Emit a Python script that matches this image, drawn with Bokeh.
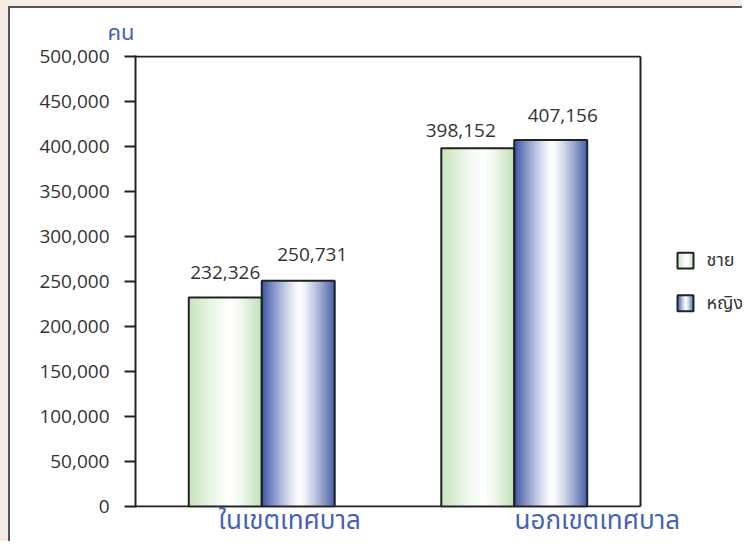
import re
from bokeh.plotting import figure
from bokeh.layouts import row
from bokeh.models import Range1d, NumeralTickFormatter, FixedTicker, ColumnDataSource
from bokeh.embed import file_html
from bokeh.resources import INLINE
from bokeh.core.properties import value

# ---- data ----
categories = ["ในเขตเทศบาล", "นอกเขตเทศบาล"]
series_names = ["ชาย", "หญิง"]
male = [232326, 398152]
female = [250731, 407156]
y_ticks = [0, 50000, 100000, 150000, 200000, 250000, 300000, 350000, 400000, 450000, 500000]
y_unit = "คน"

# ---- style ----
NUM_FONT = "Open Sans"
THAI_FONT = "'Noto Sans Thai', 'Noto Sans Thai Looped', Loma, Garuda, 'Noto Sans', sans-serif"
BLUE_TEXT = "#4762b4"
LINE = "#222222"
GRAD = {
    "ชาย": ((198, 228, 188), (192, 224, 182), 0.58),
    "หญิง": ((58, 84, 166), (68, 94, 170), 0.52),
}
BAR_W = 0.289
N_STRIPS = 40
CAT_LABEL_SHIFT = [0.111, 0.329]   # category labels sit right of the group centres
# value-label nudges in px (per series, per category): horizontal shift, gap above bar
LABEL_DX = [[0, -17], [14, 12]]
LABEL_GAP = [[25, 18], [26, 25]]

# canvas geometry (px)
W, H = 734, 535
FRAME_LEFT = 125
BOX_AREA_W = 505                     # boxed plot area width
X_EXTRA = (W - FRAME_LEFT) / BOX_AREA_W   # frame continues to the right to host the legend
n_cat = len(categories)
Y_PAD = 1100                          # keeps the 2px box lines fully visible


def grad_color(t, left, right, peak):
    if t <= peak:
        w = (peak - t) / peak
        edge = left
    else:
        w = (t - peak) / (1 - peak)
        edge = right
    w = min(1.0, w) ** 1.25
    c = [round(255 * (1 - w) + e * w) for e in edge]
    return "#%02x%02x%02x" % tuple(c)


def gradient_strips(bl, br, top, bottom, name, n):
    """overlapping strips (each runs to the right edge) -> no seams"""
    left_c, right_c, peak = GRAD[name]
    out = []
    for k in range(n):
        t = (k + 0.5) / n
        out.append((bl + (br - bl) * k / n, br, top, bottom, grad_color(t, left_c, right_c, peak)))
    return out


y0, y1 = y_ticks[0] - Y_PAD, y_ticks[-1] + Y_PAD
p = figure(width=W, height=H, x_range=Range1d(0, n_cat * X_EXTRA), y_range=Range1d(y0, y1),
           output_backend="svg", toolbar_location=None,
           min_border_left=FRAME_LEFT, min_border_right=0, min_border_top=47, min_border_bottom=30)
p.background_fill_color = "white"
p.border_fill_color = "white"
p.outline_line_color = None
p.xgrid.visible = False
p.ygrid.visible = False

p.title.text = y_unit
p.title.align = "left"
p.title.offset = -28
p.title.text_font = THAI_FONT
p.title.text_font_size = "22px"
p.title.text_font_style = "normal"
p.title.text_color = BLUE_TEXT
p.title.standoff = 11

ya = p.yaxis[0]
ya.ticker = FixedTicker(ticks=y_ticks)
ya.formatter = NumeralTickFormatter(format="0,0")
ya.minor_tick_line_color = None
ya.major_tick_in = 0
ya.major_tick_out = 11
ya.major_tick_line_width = 2
ya.major_tick_line_color = LINE
ya.axis_line_color = LINE
ya.axis_line_width = 2
ya.major_label_standoff = 15
ya.major_label_text_font = NUM_FONT
ya.major_label_text_font_size = "19px"
ya.major_label_text_color = "#333333"

xa = p.xaxis[0]
cat_pos = [ci + 0.5 + s for ci, s in enumerate(CAT_LABEL_SHIFT)]
xa.ticker = FixedTicker(ticks=cat_pos)
xa.major_label_overrides = {pos: cat for pos, cat in zip(cat_pos, categories)}
xa.major_tick_in = 0
xa.major_tick_out = 0
xa.minor_tick_line_color = None
xa.axis_line_color = None
xa.major_label_standoff = -7
xa.major_label_text_font = THAI_FONT
xa.major_label_text_font_size = "26px"
xa.major_label_text_color = BLUE_TEXT

# box around the plotting area (top, bottom, right)
top_v = y_ticks[-1]
p.segment(x0=[0, 0, n_cat], y0=[top_v, 0, 0], x1=[n_cat, n_cat, n_cat], y1=[top_v, 0, top_v],
          line_color=LINE, line_width=2)

series_vals = [male, female]
strips = []
ol, orr, ot = [], [], []
tx, ty, tt, tdx, tdy = [], [], [], [], []
for si, (name, vals) in enumerate(zip(series_names, series_vals)):
    for ci, v in enumerate(vals):
        center = ci + 0.5
        bl = center + (si - 1) * BAR_W
        br = bl + BAR_W
        strips += gradient_strips(bl, br, v, 0, name, N_STRIPS)
        ol.append(bl); orr.append(br); ot.append(v)
        tx.append((bl + br) / 2); ty.append(v); tt.append(f"{v:,}")
        tdx.append(LABEL_DX[si][ci]); tdy.append(-LABEL_GAP[si][ci])

sl, sr, st, sb, sc = map(list, zip(*strips))
p.quad(left="l", right="r", top="t", bottom="b", fill_color="c", line_color=None,
       source=ColumnDataSource(dict(l=sl, r=sr, t=st, b=sb, c=sc)))
p.quad(left=ol, right=orr, top=ot, bottom=[0] * len(ot), fill_alpha=0,
       line_color=LINE, line_width=2)
p.text(x="x", y="y", text="t", x_offset="dx", y_offset="dy",
       source=ColumnDataSource(dict(x=tx, y=ty, t=tt, dx=tdx, dy=tdy)),
       text_align="center", text_baseline="alphabetic",
       text_font=value(NUM_FONT), text_font_size="19px", text_color="#333333")

# ---- legend (right of the box, positions as fractions of box width / height) ----
PX = n_cat / BOX_AREA_W                 # data units per px horizontally
span = y_ticks[-1] - y_ticks[0]
def yfrac(f):                            # f = fraction of the box height measured from the top
    return y_ticks[-1] - f * span

box_x0 = n_cat + 37 * PX
box_x1 = box_x0 + 16 * PX
leg_tops = [0.4361, 0.5308]
leg_h = 0.0352
lstrips = []
for si, name in enumerate(series_names):
    lstrips += gradient_strips(box_x0, box_x1, yfrac(leg_tops[si]), yfrac(leg_tops[si] + leg_h), name, 10)
ll, lr, lt, lb, lc = map(list, zip(*lstrips))
p.quad(left="l", right="r", top="t", bottom="b", fill_color="c", line_color=None,
       source=ColumnDataSource(dict(l=ll, r=lr, t=lt, b=lb, c=lc)))
p.quad(left=[box_x0] * 2, right=[box_x1] * 2, top=[yfrac(f) for f in leg_tops],
       bottom=[yfrac(f + leg_h) for f in leg_tops], fill_alpha=0, line_color=LINE, line_width=2)
p.text(x=[n_cat + 66 * PX] * 2, y=[yfrac(f + leg_h / 2) for f in leg_tops], text=series_names,
       text_align="left", text_baseline="middle", text_font=value(THAI_FONT),
       text_font_size="18px", text_color="#333333")

p.styles = {"border-top": "2px solid #555555", "border-left": "2px solid #555555"}
layout = row(p, spacing=0)
layout.styles = {"border-left": "8px solid #f5ece3", "border-top": "6px solid #f5ece3",
                 "background": "white"}

html = file_html(layout, INLINE)
html = re.sub(r"<body([^>]*)>", '<body\\1 style="overflow:hidden">', html, count=1)
open("out.html", "w").write(html)
